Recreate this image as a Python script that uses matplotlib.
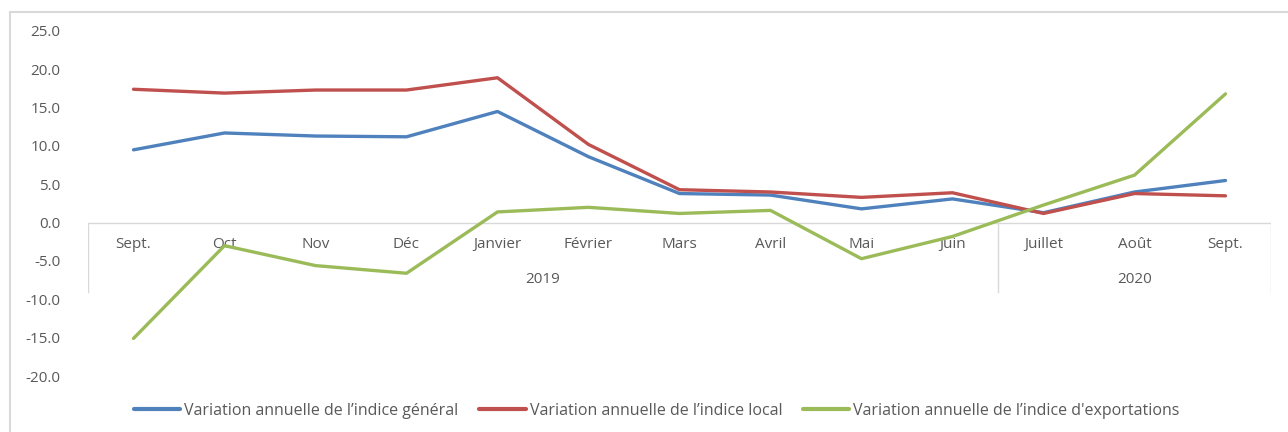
import matplotlib
matplotlib.use("Agg")
import matplotlib.pyplot as plt
from matplotlib.patches import Rectangle
from matplotlib import font_manager

months = ["Sept.", "Oct", "Nov", "Déc", "Janvier", "Février", "Mars", "Avril",
          "Mai", "Juin", "Juillet", "Août", "Sept."]
years = ["2019", "2020"]
year_spans = [(0, 10), (10, 13)]

general = [9.5, 11.7, 11.3, 11.2, 14.5, 8.6, 3.8, 3.6, 1.8, 3.1, 1.3, 4.0, 5.5]
local = [17.4, 16.9, 17.3, 17.3, 18.9, 10.2, 4.3, 4.0, 3.3, 3.9, 1.2, 3.8, 3.5]
export = [-15.1, -3.0, -5.6, -6.6, 1.4, 2.0, 1.2, 1.6, -4.7, -1.8, 2.3, 6.2, 16.8]

labels = ["Variation annuelle de l’indice général",
          "Variation annuelle de l’indice local",
          "Variation annuelle de l’indice d'exportations"]
colors = ["#4F81BD", "#C0504D", "#9BBB59"]

avail = {f.name for f in font_manager.fontManager.ttflist}
base_font = "Open Sans" if "Open Sans" in avail else "DejaVu Sans"
plt.rcParams['font.family'] = [base_font, 'DejaVu Sans']

fig = plt.figure(figsize=(12.88, 4.32), dpi=100)
W, H = 1288, 432
fig.patches.append(Rectangle((10 / W, -0.1), 1.1, 1 - 12 / H + 0.1, transform=fig.transFigure,
                             fill=False, edgecolor="#D9D9D9", linewidth=1.5))

ax = fig.add_axes([88 / W, 1 - 376 / H, 1183 / W, (376 - 31) / H])
n = len(months)
x = list(range(n))
for vals, c, lab in zip([general, local, export], colors, labels):
    ax.plot(x, vals, color=c, linewidth=2.4, label=lab, solid_capstyle="round", zorder=3)

ax.set_xlim(-0.5, n - 0.5)
ax.set_ylim(-20, 25)
ax.set_yticks(range(-20, 26, 5))
ax.set_yticklabels([f"{v:.1f}" for v in range(-20, 26, 5)], color="#595959", fontsize=11)
ax.tick_params(axis="y", length=0, pad=20)
ax.set_xticks([])
for s in ax.spines.values():
    s.set_visible(False)

# category axis at zero
grey = "#D9D9D9"
ax.plot([-0.5, n - 0.5], [0, 0], color=grey, linewidth=1, zorder=1)
for b in [-0.5, 9.5, n - 0.5]:
    ax.plot([b, b], [0, -9.0], color=grey, linewidth=1, zorder=1)
for i, m in enumerate(months):
    ax.text(i, -2.9, m, ha="center", va="center", color="#595959", fontsize=11, zorder=2)
for yr, (a, b) in zip(years, year_spans):
    ax.text((a + b - 1) / 2, -7.4, yr, ha="center", va="center", color="#595959", fontsize=11)

leg = fig.legend(loc="center", bbox_to_anchor=(657 / W, 1 - 411 / H), ncol=3, frameon=False,
                 prop={"family": base_font, "size": 11.5}, handlelength=2.9, handletextpad=0.25,
                 columnspacing=1.3, labelcolor="#595959")
for h in leg.legend_handles:
    h.set_linewidth(3)

fig.savefig("out.png", dpi=100)
